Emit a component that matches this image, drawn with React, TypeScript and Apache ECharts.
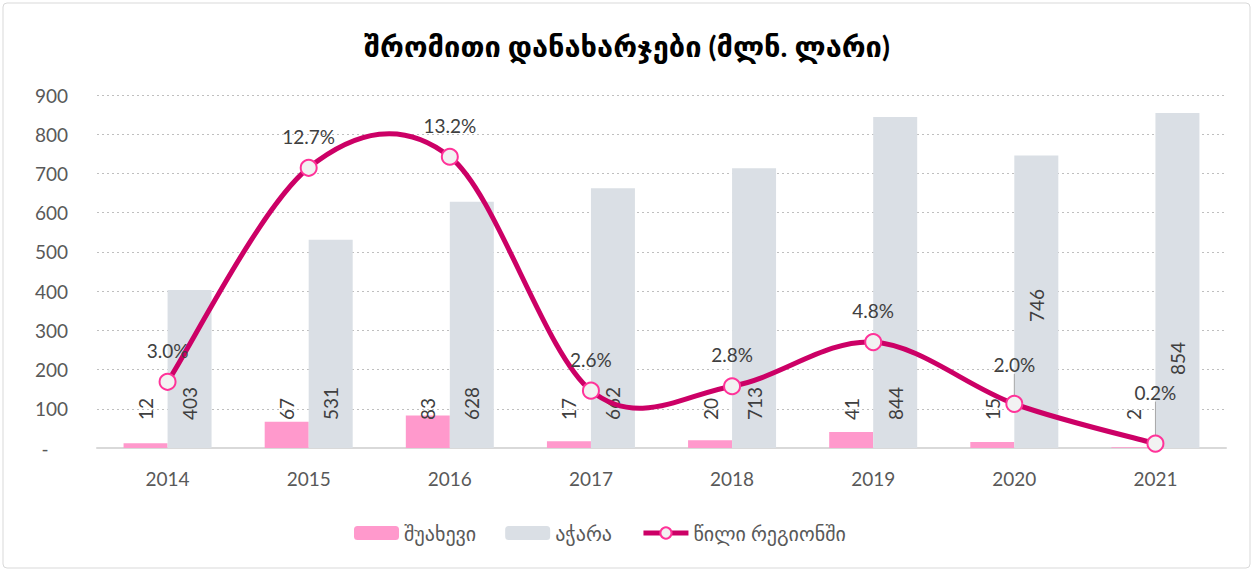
import React, { useEffect, useRef } from "react";
import * as echarts from "echarts";

const years = ["2014", "2015", "2016", "2017", "2018", "2019", "2020", "2021"];
const shuakhevi = [12, 67, 83, 17, 20, 41, 15, 2];
const adjara = [403, 531, 628, 662, 713, 844, 746, 854];
const share = [3.0, 12.7, 13.2, 2.6, 2.8, 4.8, 2.0, 0.2];

const FONT = "Lato, 'DejaVu Sans', sans-serif";
const TXT = "#595959";
const LINE = "#CC0066";

export default function App() {
  const ref = useRef<HTMLDivElement>(null);
  useEffect(() => {
    document.body.style.margin = "0";
    const chart = echarts.init(ref.current!, null, { renderer: "svg" });
    const barLabel = {
      show: true,
      position: "insideBottom",
      distance: 28,
      rotate: 90,
      align: "left",
      verticalAlign: "middle",
      color: "#404040",
      fontSize: 19,
      fontFamily: FONT,
    };
    const renderCurve = (params: any, api: any) => {
      if (params.dataIndex !== 0) return null;
      const pts = share.map((v, i) => api.coord([i, v]));
      let d = `M${pts[0][0]},${pts[0][1]}`;
      for (let i = 0; i < pts.length - 1; i++) {
        const p0 = pts[Math.max(0, i - 1)];
        const p1 = pts[i];
        const p2 = pts[i + 1];
        const p3 = pts[Math.min(pts.length - 1, i + 2)];
        const c1x = p1[0] + (p2[0] - p0[0]) / 6;
        const c1y = p1[1] + (p2[1] - p0[1]) / 6;
        const c2x = p2[0] - (p3[0] - p1[0]) / 6;
        const c2y = p2[1] - (p3[1] - p1[1]) / 6;
        d += ` C${c1x},${c1y} ${c2x},${c2y} ${p2[0]},${p2[1]}`;
      }
      return {
        type: "path",
        shape: { pathData: d },
        style: { fill: "none", stroke: LINE, lineWidth: 5, lineJoin: "round", lineCap: "round" },
        silent: true,
      };
    };
    chart.setOption({
      animation: false,
      backgroundColor: "#fff",
      textStyle: { fontFamily: FONT },
      title: {
        text: "შრომითი დანახარჯები (მლნ. ლარი)",
        left: "center",
        top: 26,
        textStyle: { fontSize: 29, fontWeight: "bold", color: "#000", fontFamily: FONT },
      },
      graphic: [
        {
          type: "rect",
          shape: { x: 3, y: 3, width: 1247, height: 565, r: 4 },
          style: { fill: "none", stroke: "#D9D9D9", lineWidth: 1 },
          silent: true,
          z: -1,
        },
      ],
      legend: {
        bottom: 24,
        left: 349,
        itemWidth: 45,
        itemHeight: 14,
        itemGap: 29,
        textStyle: { color: TXT, fontSize: 20, fontFamily: FONT },
        data: [
          { name: "შუახევი" },
          { name: "აჭარა" },
          { name: "წილი რეგიონში", lineStyle: { color: LINE, width: 5, opacity: 1 } },
        ],
      },
      grid: { left: 97, right: 28, top: 95, bottom: 124, containLabel: false },
      xAxis: {
        type: "category",
        data: years,
        axisLine: { lineStyle: { color: "#D9D9D9", width: 2 } },
        axisTick: { show: false },
        axisLabel: { color: TXT, fontSize: 19, margin: 21, fontFamily: FONT },
      },
      yAxis: [
        {
          type: "value",
          min: 0,
          max: 900,
          interval: 100,
          axisLine: { show: false },
          axisTick: { show: false },
          splitLine: { lineStyle: { color: "#BFBFBF", type: [2, 3], width: 1 } },
          axisLabel: {
            color: TXT,
            fontSize: 19,
            margin: 29,
            fontFamily: FONT,
            formatter: (v: number) => (v === 0 ? "-    " : String(v)),
          },
        },
        {
          type: "value",
          min: 0,
          max: 16,
          show: false,
          splitLine: { show: false },
        },
      ],
      series: [
        {
          name: "შუახევი",
          type: "bar",
          data: shuakhevi,
          barWidth: 44,
          barGap: "0%",
          itemStyle: { color: "#FF99CC" },
          label: barLabel,
        },
        {
          name: "აჭარა",
          type: "bar",
          data: adjara.map((v, i) =>
            i === 6
              ? { value: v, label: { distance: 126 } }
              : i === 7
              ? { value: v, label: { distance: 73 } }
              : v
          ),
          barWidth: 44,
          barGap: "0%",
          itemStyle: { color: "#DADFE5" },
          label: barLabel,
        },
        {
          name: "curve",
          type: "custom",
          yAxisIndex: 1,
          data: share.map((v, i) => [i, v]),
          renderItem: renderCurve,
          z: 4,
          silent: true,
        },
        {
          name: "წილი რეგიონში",
          type: "line",
          yAxisIndex: 1,
          data: share.map((v, i) =>
            i >= 6 ? { value: v, labelLine: { show: true, lineStyle: { color: "#A6A6A6", width: 1 } } } : v
          ),
          symbol: "circle",
          symbolSize: 16,
          lineStyle: { color: LINE, width: 5, opacity: 0 },
          itemStyle: { color: "#F2F2F2", borderColor: "#FF3399", borderWidth: 2 },
          z: 5,
          label: {
            show: true,
            position: "top",
            distance: 13,
            color: "#404040",
            fontSize: 19,
            fontFamily: FONT,
            formatter: (p: any) => p.value.toFixed(1) + "%",
          },
          labelLayout: (p: any) =>
            p.dataIndex === 6 ? { dy: -8 } : p.dataIndex === 7 ? { dy: -20 } : {},
          labelLine: { show: false },
        },
      ],
    });
    return () => chart.dispose();
  }, []);
  return <div ref={ref} style={{ width: 1254, height: 572 }} />;
}
